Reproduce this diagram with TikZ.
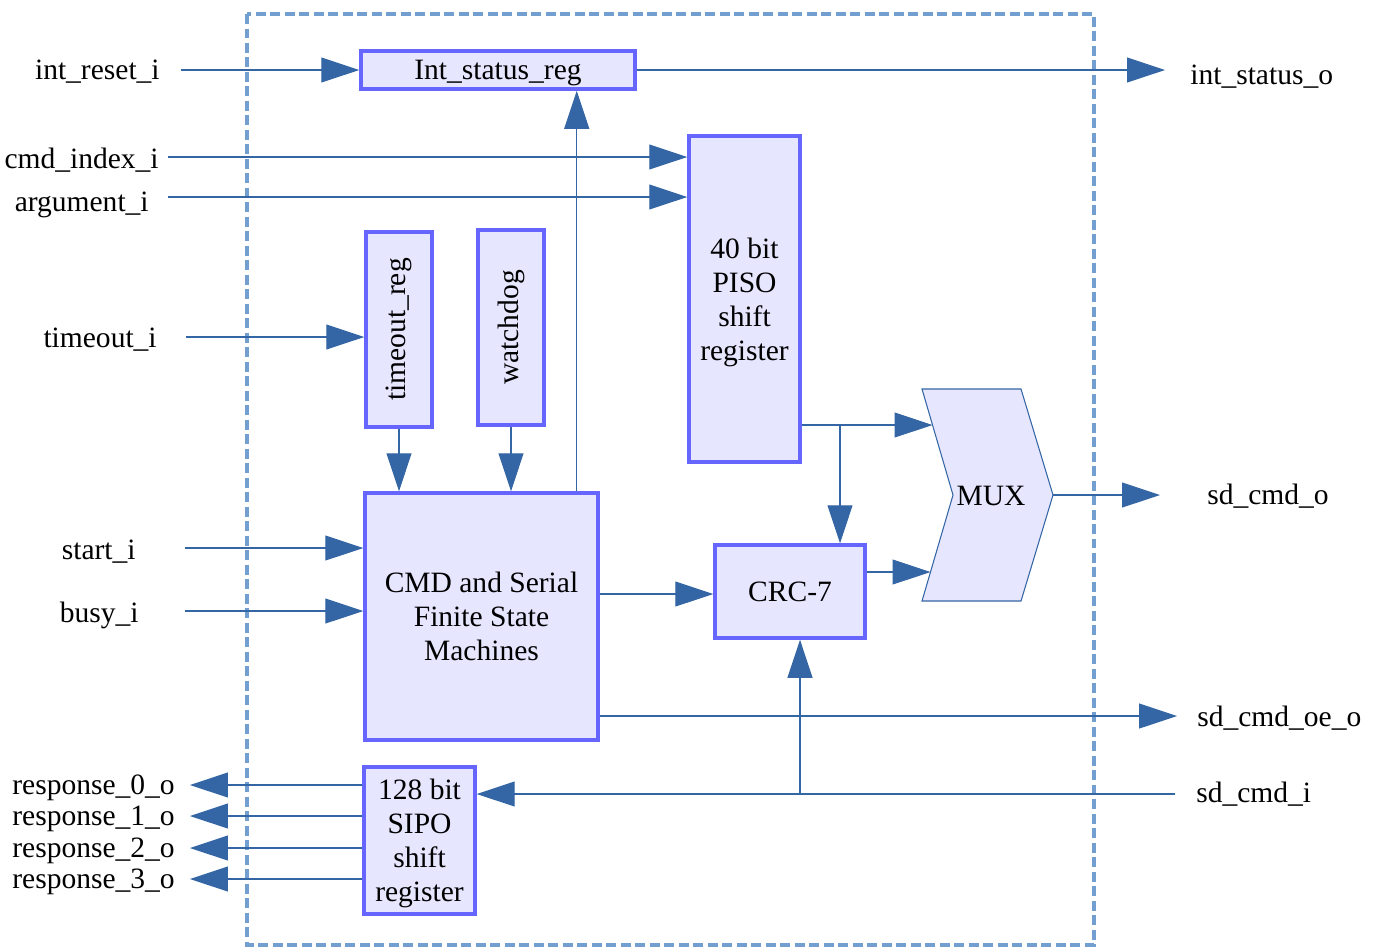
\documentclass[tikz,border=0pt]{standalone}
\usepackage{fontspec}
\setmainfont{Liberation Serif}
\usetikzlibrary{arrows.meta,positioning}

\definecolor{boxline}{HTML}{6666FF}
\definecolor{boxfill}{HTML}{E6E6FF}
\definecolor{wireblue}{HTML}{3465A4}
\definecolor{frameblue}{HTML}{729FCF}

\newcommand{\blkfont}{\fontsize{16.8}{19.3}\selectfont}

\tikzset{
  block/.style={draw=boxline, fill=boxfill, line width=2pt, align=center, inner sep=0pt, text depth=0pt},
  wire/.style={draw=wireblue, line width=0.6pt},
  sig/.style={wire, -{Triangle[length=0.76cm, width=0.5cm]}},
  port/.style={inner sep=0pt, text depth=0pt},
}

\begin{document}
\begin{tikzpicture}[x=0.02cm, y=-0.02cm, every node/.style={font=\blkfont}]
            \useasboundingbox (0,0) rectangle (1378,947);

            % Draw the module boundary
            \draw[frameblue, line width=2pt, dash pattern=on 0.2cm off 0.09cm] (247,14) rectangle (1094,945);

            % Draw the blocks
            \node[block, minimum width=5.48cm, minimum height=0.76cm] (intreg) at (498,70) {Int\_status\_reg};
            \node[block, minimum width=2.22cm, minimum height=6.52cm] (piso) at (744.5,299) {40 bit\\PISO\\shift\\register};
            \node[block, minimum width=1.32cm, minimum height=3.9cm] (toreg) at (399,329.5) {\rotatebox{90}{timeout\_reg}};
            \node[block, minimum width=1.32cm, minimum height=3.9cm] (wdog) at (511,327.5) {\rotatebox{90}{watchdog}};
            \node[block, minimum width=4.66cm, minimum height=4.94cm] (fsm) at (481.5,616.5) {CMD and Serial\\Finite State\\Machines};
            \node[block, minimum width=3cm, minimum height=1.86cm] (crc) at (790,591.5) {CRC-7};
            \node[block, minimum width=2.22cm, minimum height=2.94cm] (sipo) at (419.5,840.5) {128 bit\\SIPO\\shift\\register};

            % Draw the multiplexer
            \draw[wire, fill=boxfill] (922,389) -- (1021,389) -- (1053,495) -- (1021,601) -- (922,601) -- (953,495) -- cycle;
            \coordinate (muxa) at (932.5,425);
            \coordinate (muxb) at (930.5,572);
            \coordinate (muxout) at (1053,495);
            \node (mux) at (991,496) {MUX};

            % Input ports
            \node[port, anchor=east] (intrst) at (160,70) {int\_reset\_i};
            \node[port, anchor=east] (cmdidx) at (159,158) {cmd\_index\_i};
            \node[port, anchor=east] (arg) at (149,202) {argument\_i};
            \node[port, anchor=east] (tmo) at (157,338) {timeout\_i};
            \node[port, anchor=east] (start) at (136,550) {start\_i};
            \node[port, anchor=east] (busy) at (139,612) {busy\_i};

            % Output ports
            \node[port, anchor=west] (stso) at (1190,75) {int\_status\_o};
            \node[port, anchor=west] (sdcmdo) at (1207,494) {sd\_cmd\_o};
            \node[port, anchor=west] (sdoe) at (1197,716) {sd\_cmd\_oe\_o};
            \node[port, anchor=west] (sdcmdi) at (1196,792) {sd\_cmd\_i};

            % Wire ends
            \coordinate (intrstw) at (181,70);
            \coordinate (cmdw) at (168,157);
            \coordinate (argw) at (168,197);
            \coordinate (tmow) at (186,337);
            \coordinate (startw) at (185,548);
            \coordinate (busyw) at (185,611);
            \coordinate (stse) at (1165,70);
            \coordinate (sdcmde) at (1160,495);
            \coordinate (sdoee) at (1177,716);
            \coordinate (sdine) at (1175,794);
            \coordinate (tap) at (840,425);
            \coordinate (tapin) at (800,794);
            \coordinate (crcin) at (715,594);

            % Draw the input wires
            \draw[sig] (intrstw) -- (intreg.west);
            \draw[sig] (cmdw) -- (cmdw -| piso.west);
            \draw[sig] (argw) -- (argw -| piso.west);
            \draw[sig] (tmow) -- (tmow -| toreg.west);
            \draw[sig] (startw) -- (startw -| fsm.west);
            \draw[sig] (busyw) -- (busyw -| fsm.west);

            % Draw the internal wires
            \draw[sig] (toreg.south) -- (toreg.south |- fsm.north);
            \draw[sig] (wdog.south) -- (wdog.south |- fsm.north);
            \draw[sig] ([xshift=-0.46cm]fsm.north east) -- ([xshift=-0.46cm]fsm.north east |- intreg.south);
            \draw[sig] (fsm.east |- crcin) -- (crcin -| crc.west);
            \draw[sig] (piso.east |- muxa) -- (muxa);
            \draw[sig] (tap) -- (tap |- crc.north);
            \draw[sig] (crc.east |- muxb) -- (muxb);

            % Draw the output wires
            \draw[sig] (intreg.east) -- (stse);
            \draw[sig] (muxout) -- (sdcmde);
            \draw[sig] (fsm.east |- sdoee) -- (sdoee);
            \draw[sig] (sdine) -- (sdine -| sipo.east);
            \draw[sig] (tapin) -- (tapin |- crc.south);

            % Draw the response outputs
            \foreach \i/\y in {0/785,1/816,2/848,3/879} {
                \coordinate (resp\i) at (190,\y);
                \node[port, anchor=east] (resplbl\i) at (175,\y) {response\_\i\_o};
                \draw[sig] (resp\i -| sipo.west) -- (resp\i);
            }
\end{tikzpicture}
\end{document}
